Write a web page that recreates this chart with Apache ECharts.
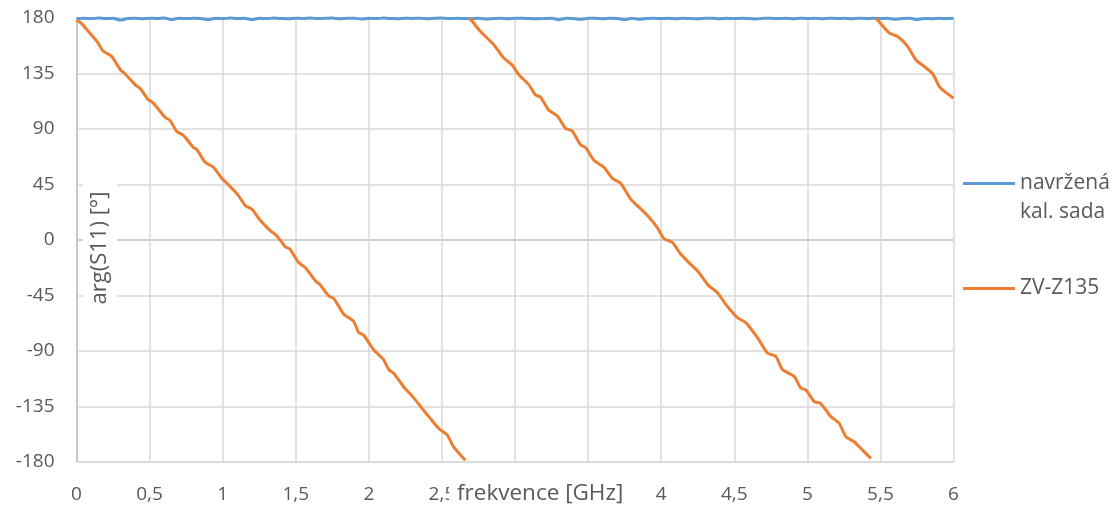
<!DOCTYPE html>
<html>
<head>
<meta charset="utf-8">
<script src="https://cdn.jsdelivr.net/npm/echarts@6/dist/echarts.min.js"></script>
<style>
  html, body { margin: 0; padding: 0; background: #fff; }
  #chart { width: 1115px; height: 506px; }
</style>
</head>
<body>
<div id="chart"></div>
<script>
// Phase of S11 versus frequency for two calibration standards.
const xTicks = ['0', '0,5', '1', '1,5', '2', '2,5', '3', '3,5', '4', '4,5', '5', '5,5', '6'];
const yTicks = [-180, -135, -90, -45, 0, 45, 90, 135, 180];

const seriesNames = ['navržená kal. sada', 'ZV-Z135'];

// Designed kit: phase stays at ~180° (sampled every 0.05 GHz from 0 to 6 GHz)
const blueStep = 0.05;
const blueVals = [
  179.6, 179.8, 179.5, 179.9, 179.6, 179.7, 178.3, 179.6, 179.8, 179.4,
  179.8, 179.6, 179.9, 178.6, 179.7, 179.5, 179.8, 179.6, 178.7, 179.8,
  179.5, 179.9, 179.6, 179.7, 178.8, 179.7, 179.5, 179.9, 179.6, 179.3,
  179.8, 179.6, 179.9, 179.5, 179.7, 179.9, 179.4, 179.7, 179.8, 179.2,
  179.7, 179.5, 179.9, 179.6, 179.3, 179.8, 179.6, 179.8, 179.3, 179.7,
  179.9, 179.5, 179.8, 179.6, 179.4, 179.8, 179.2, 179.5, 179.7, 179.4,
  179.7, 179.8, 179.5, 179.3, 179.6, 179.8, 178.6, 179.7, 179.5, 178.9,
  179.7, 179.8, 179.4, 179.7, 179.6, 178.7, 179.7, 178.9, 179.6, 179.8,
  179.5, 179.7, 179.4, 179.8, 179.6, 179.3, 179.7, 179.8, 179.4, 179.7,
  179.5, 179.8, 179.6, 179.2, 179.7, 179.8, 179.5, 179.7, 179.4, 179.8,
  179.6, 179.7, 179.3, 179.8, 179.6, 179.7, 179.4, 179.8, 179.6, 179.7,
  179.5, 179.8, 178.9, 179.6, 179.7, 178.8, 179.6, 179.4, 179.7, 179.5,
  179.7
];

// ZV-Z135: phase wraps from -180° back to +180°, three branches [GHz, deg]
const orangeSeg1 = [
  [0, 178], [0.03, 176], [0.09, 168], [0.14, 161], [0.184, 153], [0.24, 149],
  [0.30, 138], [0.33, 135], [0.40, 126], [0.435, 123], [0.49, 114], [0.526, 111],
  [0.606, 99.5], [0.64, 97], [0.686, 88], [0.73, 85], [0.80, 75], [0.823, 73.4],
  [0.88, 63], [0.937, 59], [0.994, 50], [1.03, 46], [1.108, 36], [1.154, 28],
  [1.20, 25], [1.257, 16], [1.325, 7.6], [1.37, 3.5], [1.428, -5.5], [1.46, -7.3],
  [1.52, -18.3], [1.565, -22.3], [1.634, -33], [1.668, -36.4], [1.725, -45.4],
  [1.76, -47.3], [1.827, -60], [1.896, -66], [1.93, -75], [1.964, -77],
  [2.033, -89], [2.10, -97], [2.136, -105], [2.17, -108], [2.238, -119],
  [2.307, -128], [2.364, -136.5], [2.42, -144.6], [2.478, -152.8], [2.536, -158],
  [2.58, -167.7], [2.66, -178.5]
];
const orangeSeg2 = [
  [2.69, 180], [2.764, 169], [2.855, 158.4], [2.923, 147.5], [2.98, 142],
  [3.026, 134], [3.094, 126], [3.14, 117.6], [3.175, 115.8], [3.23, 105.4],
  [3.29, 100.5], [3.346, 90.5], [3.39, 88.5], [3.45, 77], [3.483, 75],
  [3.54, 64.6], [3.608, 59], [3.666, 50], [3.723, 46], [3.79, 33.4],
  [3.848, 26.6], [3.905, 20], [3.974, 10], [4.02, 1], [4.077, -2],
  [4.133, -11.4], [4.19, -18.3], [4.248, -25], [4.327, -37.3], [4.385, -42.7],
  [4.442, -52.2], [4.522, -63], [4.579, -67], [4.66, -79.4], [4.727, -91.6],
  [4.784, -94.3], [4.83, -105], [4.91, -110.6], [4.955, -120], [4.99, -121.5],
  [5.047, -131], [5.09, -132.4], [5.16, -143], [5.218, -148.7], [5.264, -159.5],
  [5.32, -163.6], [5.378, -170.4], [5.435, -177.2]
];
const orangeSeg3 = [
  [5.469, 180], [5.56, 168], [5.618, 165], [5.686, 157], [5.743, 146],
  [5.80, 140.7], [5.858, 134.8], [5.903, 124.4], [5.949, 119.5], [6.0, 115]
];

const blueData = blueVals.map((v, i) => [+(i * blueStep).toFixed(2), v]);
// a '-' entry breaks the line between branches so the wrap is not joined
const orangeData = [].concat(orangeSeg1, [['-', '-']], orangeSeg2, [['-', '-']], orangeSeg3);

const FONT = '"Open Sans", "Liberation Sans", sans-serif';
const TXT = '#595959';
const GRID = '#d9d9d9';
const AXIS = '#bfbfbf';

const chart = echarts.init(document.getElementById('chart'), null, { renderer: 'canvas' });

chart.setOption({
  animation: false,
  backgroundColor: '#ffffff',
  grid: { left: 76.5, top: 18, width: 877, height: 444, containLabel: false },
  xAxis: {
    type: 'value',
    min: 0, max: 6, interval: 0.5,
    axisLine: { show: true, onZero: false, lineStyle: { color: GRID, width: 1.5 } },
    axisTick: { show: false },
    splitLine: { show: true, lineStyle: { color: GRID, width: 1.5 } },
    axisLabel: {
      margin: 23,
      color: TXT, fontFamily: FONT, fontSize: 19,
      formatter: v => xTicks[Math.round(v / 0.5)]
    }
  },
  yAxis: {
    type: 'value',
    min: -180, max: 180, interval: 45,
    axisLine: { show: true, lineStyle: { color: AXIS, width: 1.5 } },
    axisTick: { show: false },
    splitLine: {
      show: true,
      lineStyle: {
        color: yTicks.map(t => (t === 0 ? AXIS : GRID)),
        width: 1.5
      }
    },
    axisLabel: {
      margin: 22,
      color: TXT, fontFamily: FONT, fontSize: 19,
      formatter: v => String(v)
    }
  },
  legend: {
    orient: 'vertical',
    left: 958, top: 135,
    itemWidth: 52, itemHeight: 3, itemGap: 47,
    icon: 'rect',
    data: seriesNames,
    // leading blank line keeps the line icon level with the first text row
    formatter: name => (name === seriesNames[0] ? '\u00a0\nnavržená\nkal. sada' : name),
    textStyle: { color: TXT, fontFamily: FONT, fontSize: 21, lineHeight: 29 }
  },
  graphic: [
    {
      type: 'text', z: 100,
      x: 100, y: 248, rotation: Math.PI / 2,
      style: {
        text: 'arg(S11) [°]', fill: TXT, font: '22px ' + FONT,
        align: 'center', verticalAlign: 'middle',
        backgroundColor: '#fff', padding: [7, 8, 5, 8]
      }
    },
    {
      type: 'text', z: 100,
      x: 449, y: 494,
      style: {
        text: 'frekvence [GHz]', fill: TXT, font: '22.5px ' + FONT,
        verticalAlign: 'middle',
        backgroundColor: '#fff', padding: [2, 6, 2, 8]
      }
    }
  ],
  series: [
    {
      name: seriesNames[0], type: 'line', data: blueData,
      symbol: 'none', clip: false, smooth: 0.2,
      lineStyle: { color: '#5b9bd5', width: 3 },
      itemStyle: { color: '#5b9bd5' }
    },
    {
      name: seriesNames[1], type: 'line', data: orangeData,
      symbol: 'none', clip: false, smooth: 0.2, connectNulls: false,
      lineStyle: { color: '#ed7d31', width: 3 },
      itemStyle: { color: '#ed7d31' }
    }
  ]
});
</script>
</body>
</html>
